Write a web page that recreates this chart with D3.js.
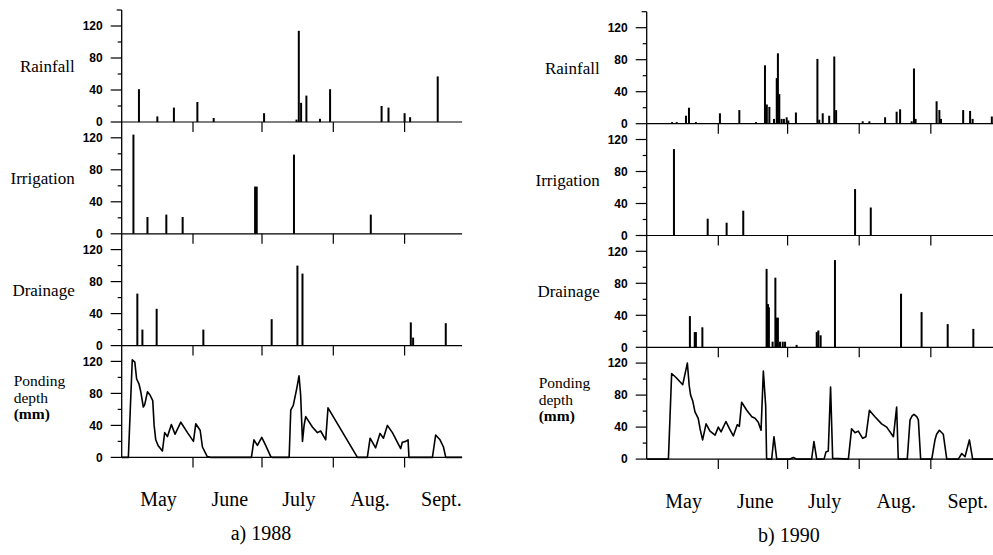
<!DOCTYPE html>
<html>
<head>
<meta charset="utf-8">
<script src="https://cdn.jsdelivr.net/npm/d3@7"></script>
<style>
  body { margin: 0; background: #fff; }
  svg { display: block; }
  .num { font-family: "Liberation Sans", Arial, sans-serif; font-weight: bold; font-size: 12px; }
  .lab { font-family: "Liberation Serif", "Times New Roman", serif; font-size: 17px; }
  .pond { font-family: "Liberation Serif", "Times New Roman", serif; font-size: 15.5px; }
  .mon { font-family: "Liberation Serif", "Times New Roman", serif; font-size: 20px; }
</style>
</head>
<body>
<svg id="chart" width="993" height="555"></svg>
<script>
// days are counted from 1 May (day 0)
const months = ["May", "June", "July", "Aug.", "Sept."];
const monthStart = [0, 31, 61, 92, 123];
const rowNames = ["Rainfall", "Irrigation", "Drainage"];
const pondLines = ["Ponding", "depth", "(mm)"];
const yMajor = [0, 40, 80, 120];
const yMinor = [20, 60, 100];

// ---- 1988 ----
const rain88Day = [7.5, 15.5, 22.7, 32.9, 40, 61.9, 76, 77, 78, 80.3, 86.2, 90.6, 113, 116, 123, 125.4, 137.4];
const rain88Val = [41, 7, 18, 25, 5, 11, 3, 114, 24, 33, 4, 41, 20, 18, 11, 6, 57];
const irr88Day = [5.1, 11.2, 19.4, 26.5, 58, 58.7, 74.9, 108.3];
const irr88Val = [124, 21, 24, 21, 59, 59, 99, 24];
const drn88Day = [6.8, 9, 15.2, 35.5, 65.2, 76.4, 78.6, 125.7, 126.7, 140.9];
const drn88Val = [65, 20, 46, 20, 33, 100, 90, 29, 10, 28];
const pond88Day = [0, 2.9, 4.6, 5.7, 6.5, 7.5, 8.3, 9.4, 10, 11.2, 12.3, 13.5, 14.1, 14.8, 15.8, 17.7, 18.7, 19.9, 21.6, 23.2, 25.7, 28.6, 31.2, 32.2, 34.1, 35.1, 37.2, 38.7,
  56.4, 57.5, 59, 60.9, 62.6, 64.8, 65.5, 72.8, 73.5, 74.6, 76.1, 77.1, 77.8, 78.6, 79.3, 80, 82.9, 85.1, 86.5, 88.7, 89.7, 102.5,
  106.8, 108, 110.4, 112.3, 113.8, 115.5, 117.7, 121.3, 122, 123.5, 124.5, 124.9, 135.1, 136.5, 138.4, 139.9, 140.9, 148];
const pond88Val = [0, 0, 122, 119, 98, 92, 82, 63, 66, 82, 78, 71, 40, 22, 15, 8, 31, 26, 41, 29, 44, 31, 20, 42, 34, 13, 1, 0,
  0, 22, 15, 25, 15, 1, 0, 0, 59, 65, 86, 102, 78, 20, 40, 51, 38, 31, 33, 22, 62, 0,
  0, 24, 12, 30, 24, 40, 31, 11, 19, 20, 22, 0, 0, 28, 22, 13, 0, 0];

// ---- 1990 ----
const rain90Day = [11, 13, 17, 18.3, 21.3, 31.7, 40.1, 47.3, 51.2, 52, 53.1, 55.1, 56.3, 56.8, 57.4, 58.4, 59.4, 60.6, 61.3, 64.6,
  73.9, 74.7, 76.2, 79, 81.2, 82, 93.5, 96.4, 103.2, 108.2, 109.7, 114.7, 115.7, 116.4, 125.5, 126.7, 127.4, 137, 140, 141.1, 149.4];
const rain90Val = [2, 2, 10, 20, 2, 13, 17, 2, 73, 24, 21, 6, 57, 88, 37, 6, 6, 8, 4, 14,
  81, 5, 13, 10, 84, 17, 3, 3, 8, 15, 18, 3, 69, 6, 28, 17, 6, 17, 16, 6, 9];
const irr90Day = [11.8, 26.4, 34.6, 41.8, 90.2, 97];
const irr90Val = [108, 21, 16, 31, 58, 35];
const drn90Day = [18.7, 20.8, 21.3, 24.1, 51.9, 52.5, 52.9, 54.5, 55.7, 56.3, 56.8, 57.7, 58.9, 59.9, 64.9, 73.6, 74.3, 75.3, 81.5, 110.1, 119, 130.3, 141.4];
const drn90Val = [39, 19, 19, 25, 98, 54, 50, 7, 87, 37, 37, 7, 7, 7, 3, 19, 21, 15, 109, 67, 44, 29, 23];
const pond90Day = [0, 9.4, 10.8, 12.7, 15.6, 17.6, 18.4, 19, 19.9, 20.9, 22.3, 23.1, 24.2, 25.7, 27.4, 29.6, 31, 32.2, 34.3, 35.8, 37.5, 39.2, 40.1,
  41.1, 43.3, 45.5, 46.9, 48.3, 49.5, 50.5, 51.5, 51.9, 52.4, 54.1, 55.1, 56.3, 62, 63.5, 64.9, 71.4, 72.4, 73.6, 76.8, 77.6, 78.6, 79.6, 80.5,
  87.3, 88.7, 90.2, 91.6, 93.5, 94.9, 96.4, 98.8, 101.7, 103.9, 106.8, 108.2, 108.9, 112.8, 114, 114.9, 115.7, 116.9, 117.6, 118.6,
  123.4, 124.8, 125.5, 126.7, 128.4, 129.9, 134.9, 136.4, 137.8, 139.7, 141.1, 150];
const pond90Val = [0, 0, 107, 102, 93, 120, 92, 80, 73, 59, 51, 38, 24, 44, 35, 30, 40, 34, 47, 38, 29, 43, 41,
  71, 61, 53, 51, 46, 36, 110, 67, 1, 0, 0, 28, 0, 0, 2, 0, 0, 22, 0, 0, 9, 10, 90, 1,
  0, 38, 33, 35, 26, 28, 61, 53, 44, 40, 28, 65, 0, 0, 49, 54, 56, 53, 49, 0,
  0, 24, 31, 36, 31, 0, 0, 7, 3, 24, 0, 0];

const panels = [
  { title: "a)  1988", x0: 121.7, pxDay: 2.3, days: 148, zero: 122,
    bars: [[rain88Day, rain88Val], [irr88Day, irr88Val], [drn88Day, drn88Val]], pond: [pond88Day, pond88Val] },
  { title: "b)  1990", x0: 646.7, pxDay: 2.31, days: 150, zero: 123.7,
    bars: [[rain90Day, rain90Val], [irr90Day, irr90Val], [drn90Day, drn90Val]], pond: [pond90Day, pond90Val] }
];

const svg = d3.select("#chart");
const rowGap = 111.8;

panels.forEach(function (p) {
  const x = d3.scaleLinear().domain([0, p.days]).range([p.x0, p.x0 + p.days * p.pxDay]);
  const g = svg.append("g");

  for (let r = 0; r < 4; r++) {
    const z = p.zero + r * rowGap;
    const y = d3.scaleLinear().domain([0, 120]).range([z, z - 96]);
    const row = g.append("g");

    // vertical axis
    row.append("line")
      .attr("x1", p.x0).attr("x2", p.x0)
      .attr("y1", y(0)).attr("y2", y(140))
      .attr("stroke", "#000").attr("stroke-width", 1.3);
    row.selectAll(".maj").data(yMajor).enter().append("line")
      .attr("x1", p.x0 - 11).attr("x2", p.x0)
      .attr("y1", d => y(d)).attr("y2", d => y(d))
      .attr("stroke", "#000").attr("stroke-width", 1.2);
    row.selectAll(".min").data(yMinor).enter().append("line")
      .attr("x1", p.x0 - 4).attr("x2", p.x0)
      .attr("y1", d => y(d)).attr("y2", d => y(d))
      .attr("stroke", "#000").attr("stroke-width", 1.2);
    if (r === 0) {
      row.append("line")
        .attr("x1", p.x0 - 5).attr("x2", p.x0)
        .attr("y1", y(140)).attr("y2", y(140))
        .attr("stroke", "#000").attr("stroke-width", 1.2);
    }
    row.selectAll(".num").data(yMajor).enter().append("text")
      .attr("class", "num")
      .attr("x", p.x0 - 19).attr("y", d => y(d))
      .attr("dy", "0.35em").attr("text-anchor", "end")
      .text(d => d);

    // zero line and month ticks
    row.append("line")
      .attr("x1", p.x0).attr("x2", x(p.days))
      .attr("y1", y(0)).attr("y2", y(0))
      .attr("stroke", "#000").attr("stroke-width", 1.2);
    row.selectAll(".mt").data(monthStart.slice(1)).enter().append("line")
      .attr("x1", d => x(d)).attr("x2", d => x(d))
      .attr("y1", y(0)).attr("y2", y(0) + 10)
      .attr("stroke", "#000").attr("stroke-width", 1.2);

    if (r < 3) {
      const days = p.bars[r][0], vals = p.bars[r][1];
      row.selectAll(".bar").data(days).enter().append("rect")
        .attr("x", d => x(d) - 1).attr("width", 2)
        .attr("y", (d, i) => y(vals[i]))
        .attr("height", (d, i) => y(0) - y(vals[i]))
        .attr("fill", "#000");
      row.append("text").attr("class", "lab")
        .attr("x", p.x0 - 47).attr("y", z - 50)
        .attr("text-anchor", "end")
        .text(rowNames[r]);
    } else {
      const days = p.pond[0], vals = p.pond[1];
      const line = d3.line()
        .x(d => x(d))
        .y((d, i) => y(vals[i]));
      row.append("path")
        .attr("d", line(days))
        .attr("fill", "none").attr("stroke", "#000")
        .attr("stroke-width", 1.6).attr("stroke-linejoin", "round");
      row.selectAll(".pond").data(pondLines).enter().append("text")
        .attr("class", "pond")
        .attr("x", p.x0 - 108)
        .attr("y", (d, i) => z - 71 + i * 16.5)
        .attr("font-weight", (d, i) => i === 2 ? "bold" : null)
        .text(d => d);

      // month labels
      g.selectAll(".mon").data(months).enter().append("text")
        .attr("class", "mon")
        .attr("x", (d, i) => x(monthStart[i] + 16))
        .attr("y", z + 49)
        .attr("text-anchor", "middle")
        .text(d => d);
      g.append("text").attr("class", "mon")
        .attr("x", (x(0) + x(p.days)) / 2 - 31)
        .attr("y", z + 83)
        .attr("text-anchor", "middle")
        .text(p.title);
    }
  }
});
</script>
</body>
</html>
